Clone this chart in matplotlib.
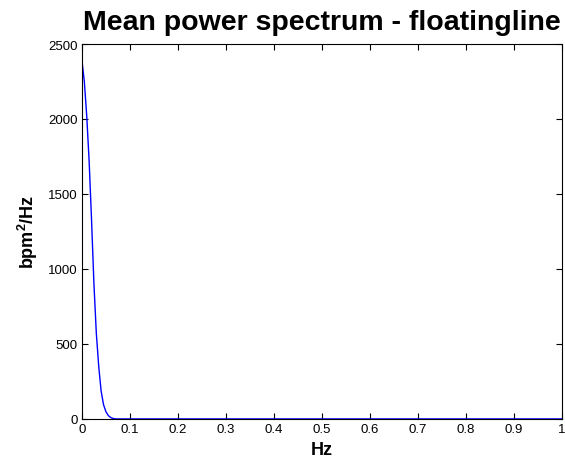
import matplotlib
matplotlib.use('Agg')
import matplotlib.pyplot as plt

plt.rcParams['font.family'] = ['Liberation Sans', 'DejaVu Sans']
plt.rcParams['mathtext.fontset'] = 'custom'
plt.rcParams['mathtext.rm'] = 'Liberation Sans'
plt.rcParams['mathtext.bf'] = 'Liberation Sans:bold'

# frequency (Hz) and mean power (bpm^2/Hz)
freq = [0, 0.005, 0.01, 0.015, 0.02, 0.025, 0.03, 0.035, 0.04, 0.045,
        0.05, 0.055, 0.06, 0.065, 0.07, 0.1, 0.2, 0.3, 0.4, 0.5,
        0.6, 0.7, 0.8, 0.9, 1.0]
power = [2390, 2250, 2020, 1720, 1330, 900, 570, 350, 185, 95,
         48, 22, 9, 3, 0, 0, 0, 0, 0, 0,
         0, 0, 0, 0, 0]

x_ticks = [0, 0.1, 0.2, 0.3, 0.4, 0.5, 0.6, 0.7, 0.8, 0.9, 1]
x_labels = ['0', '0.1', '0.2', '0.3', '0.4', '0.5', '0.6', '0.7', '0.8', '0.9', '1']
y_ticks = [0, 500, 1000, 1500, 2000, 2500]

fig = plt.figure(figsize=(5.65, 4.64), dpi=100)
ax = fig.add_axes([0.145, 0.095, 0.85, 0.808])

ax.plot(freq, power, color='blue', linewidth=1)

ax.set_xlim(0, 1)
ax.set_ylim(0, 2500)
ax.set_xticks(x_ticks)
ax.set_xticklabels(x_labels)
ax.set_yticks(y_ticks)
ax.tick_params(direction='in', top=True, right=True, labelsize=9.5, length=4, pad=3)

ax.set_xlabel('Hz', fontsize=13, fontweight='bold', labelpad=4)
ax.set_ylabel('bpm$^\\mathbf{2}$/Hz', fontsize=13, fontweight='bold', labelpad=6)
ax.set_title('Mean power spectrum - floatingline', fontsize=20.5, fontweight='bold', pad=11)

fig.savefig('out.png', dpi=100)
